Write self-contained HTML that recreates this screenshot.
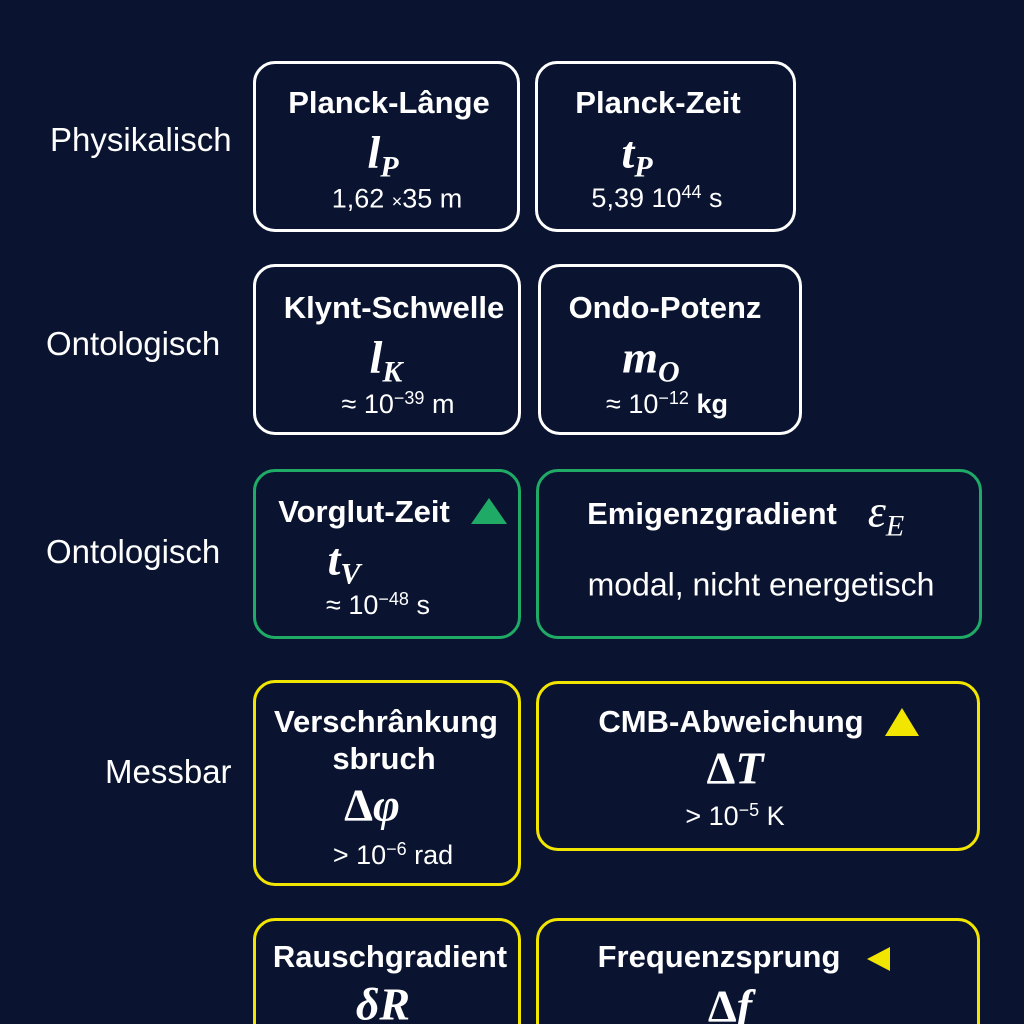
<!DOCTYPE html>
<html style="margin:0;width:1024px;height:1024px;overflow:hidden"><head><meta charset="utf-8"><style>
body{margin:0;width:1024px;height:1024px;background:#0a1430;overflow:hidden;position:relative;font-family:"Liberation Sans",sans-serif;color:#fff}
.b{position:absolute;box-sizing:border-box;border:3px solid #fff;border-radius:22px}
.g{border-color:#1faa66}.y{border-color:#f2e600}
.t{position:absolute;font-weight:bold;font-size:31px;white-space:nowrap;transform:translate(-50%,-50%)}
.m{position:absolute;font-family:"Liberation Serif",serif;font-style:italic;font-weight:bold;font-size:46px;white-space:nowrap;transform:translate(-50%,-50%)}
.m sub{font-size:30px;vertical-align:-9px}
.v{position:absolute;font-size:27px;white-space:nowrap;transform:translate(-50%,-50%)}
.v sup{font-size:18px;vertical-align:9px}
.l{position:absolute;font-size:33px;white-space:nowrap;transform:translateY(-50%)}
.up{font-style:normal}
</style></head><body>
<div class="l" style="left:50px;top:140px">Physikalisch</div>
<div class="l" style="left:46px;top:344px">Ontologisch</div>
<div class="l" style="left:46px;top:552px">Ontologisch</div>
<div class="l" style="left:105px;top:772px">Messbar</div>

<div class="b" style="left:253px;top:61px;width:267px;height:171px"></div>
<div class="t" style="left:389px;top:103px">Planck-Lânge</div>
<div class="m" style="left:383px;top:155px">l<sub>P</sub></div>
<div class="v" style="left:397px;top:199px">1,62 <span style="font-size:18px">×</span>35 m</div>

<div class="b" style="left:535px;top:61px;width:261px;height:171px"></div>
<div class="t" style="left:658px;top:103px">Planck-Zeit</div>
<div class="m" style="left:637px;top:155px">t<sub>P</sub></div>
<div class="v" style="left:657px;top:198px">5,39 10<sup>44</sup> s</div>

<div class="b" style="left:253px;top:264px;width:268px;height:171px"></div>
<div class="t" style="left:394px;top:308px">Klynt-Schwelle</div>
<div class="m" style="left:386px;top:360px">l<sub>K</sub></div>
<div class="v" style="left:398px;top:404px">≈ 10<sup>−39</sup> m</div>

<div class="b" style="left:538px;top:264px;width:264px;height:171px"></div>
<div class="t" style="left:665px;top:308px">Ondo-Potenz</div>
<div class="m" style="left:651px;top:360px">m<sub>O</sub></div>
<div class="v" style="left:667px;top:404px">≈ 10<sup>−12</sup> <b>kg</b></div>

<div class="b g" style="left:253px;top:469px;width:268px;height:170px"></div>
<div class="t" style="left:364px;top:512px">Vorglut-Zeit</div>
<svg style="position:absolute;left:470px;top:496px" width="38" height="30"><polygon points="19,2 37,28 1,28" fill="#1faa66"/></svg>
<div class="m" style="left:344px;top:562px">t<sub>V</sub></div>
<div class="v" style="left:378px;top:605px">≈ 10<sup>−48</sup> s</div>

<div class="b g" style="left:536px;top:469px;width:446px;height:170px"></div>
<div class="t" style="left:712px;top:514px">Emigenzgradient</div>
<div class="m" style="left:886px;top:514px;font-weight:normal">ε<sub>E</sub></div>
<div class="v" style="left:761px;top:585px;font-size:32px">modal, nicht energetisch</div>

<div class="b y" style="left:253px;top:680px;width:268px;height:206px"></div>
<div class="t" style="left:386px;top:722px">Verschrânkung</div>
<div class="t" style="left:384px;top:759px">sbruch</div>
<div class="m" style="left:372px;top:805px"><span class="up">Δ</span>φ</div>
<div class="v" style="left:393px;top:855px">&gt; 10<sup>−6</sup> rad</div>

<div class="b y" style="left:536px;top:681px;width:444px;height:170px"></div>
<div class="t" style="left:731px;top:722px">CMB-Abweichung</div>
<svg style="position:absolute;left:884px;top:706px" width="36" height="32"><polygon points="18,2 35,30 1,30" fill="#f2e600"/></svg>
<div class="m" style="left:735px;top:768px"><span class="up">Δ</span>T</div>
<div class="v" style="left:735px;top:816px">&gt; 10<sup>−5</sup> K</div>

<div class="b y" style="left:253px;top:918px;width:268px;height:140px"></div>
<div class="t" style="left:390px;top:957px">Rauschgradient</div>
<div class="m" style="left:383px;top:1004px">δR</div>

<div class="b y" style="left:536px;top:918px;width:444px;height:140px"></div>
<div class="t" style="left:719px;top:957px">Frequenzsprung</div>
<svg style="position:absolute;left:866px;top:946px" width="26" height="26"><polygon points="24,1 24,25 1,13" fill="#f2e600"/></svg>
<div class="m" style="left:730px;top:1006px"><span class="up">Δ</span>f</div>
</body></html>
